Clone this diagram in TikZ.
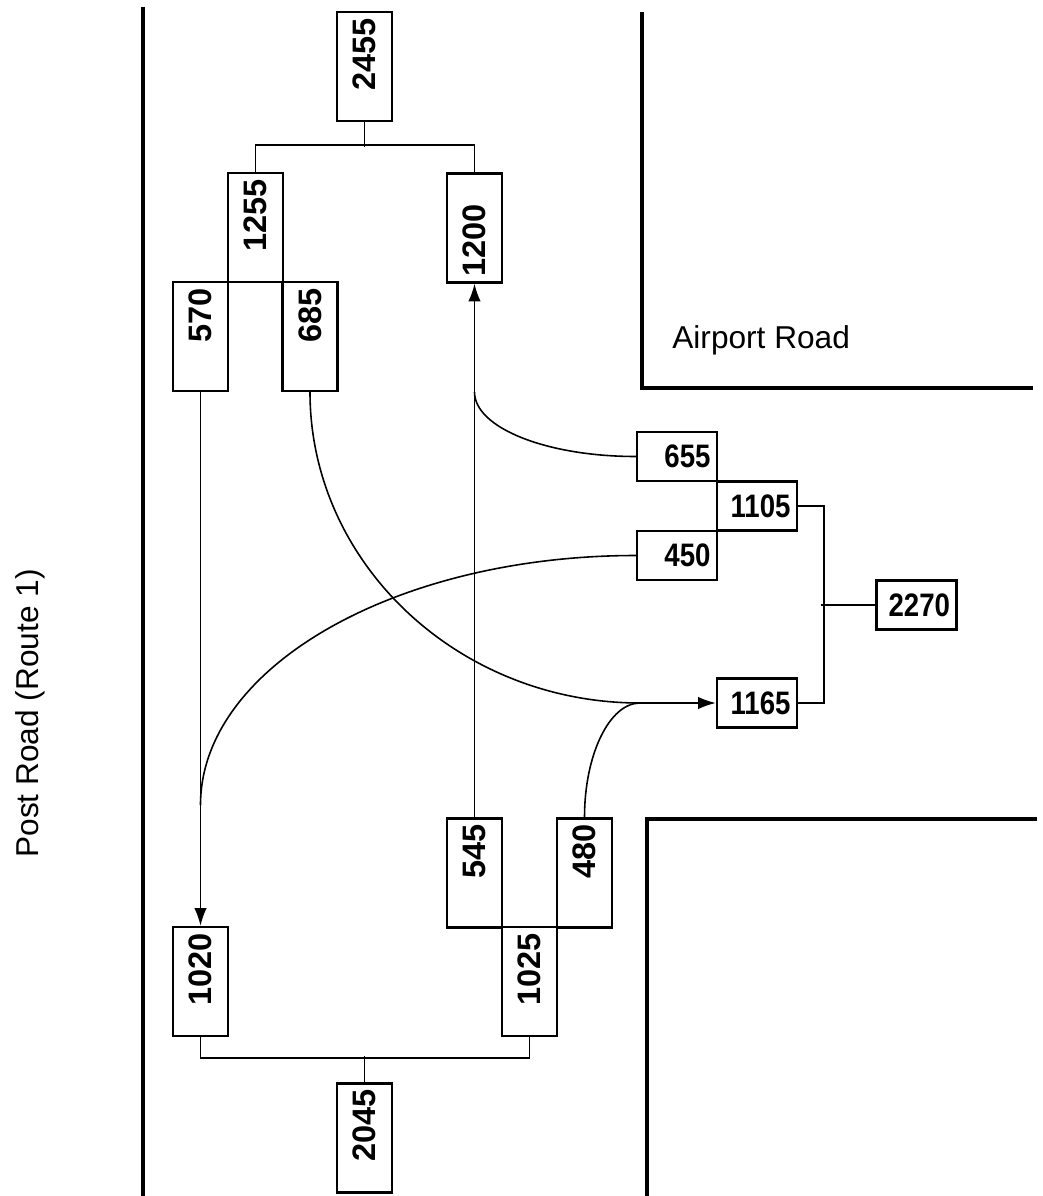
\documentclass[tikz,border=0pt]{standalone}
\usepackage{fontspec}
\setmainfont{Liberation Sans}
\usetikzlibrary{arrows.meta}

\newcommand{\squeeze}[1]{\scalebox{0.85}[1]{#1}}

\begin{document}
\begin{tikzpicture}[x=0.02cm, y=-0.02cm, >={Latex[length=10pt, width=7pt]},
        vcount/.style={draw, line width=1.4pt, rotate=90, minimum height=1.1cm, text width=1.94cm, inner xsep=0.12cm, inner ysep=0pt, align=right, font=\bfseries\fontsize{18.5}{20}\selectfont},
        hcount/.style={draw, line width=1.4pt, minimum height=0.98cm, text width=1.34cm, inner xsep=0.13cm, inner ysep=0pt, align=right, font=\bfseries\fontsize{18.5}{20}\selectfont},
        road/.style={line width=2pt},
        flow/.style={line width=0.9pt},
        roadname/.style={inner sep=0pt, font=\fontsize{18}{20}\selectfont}]
        \useasboundingbox (0,0) rectangle (1043,1196);

        % roads
        \draw[road] (143,7) -- (143,1196);
        \draw[road] (642,12) -- (642,388) -- (1033,388);
        \draw[road] (1037,819) -- (647,819) -- (647,1196);
        \node[roadname, anchor=base west] (airport) at (672,348) {Airport Road};
        \node[roadname, anchor=base west, rotate=90] (post) at (38,858) {Post Road (Route 1)};

        % counts
        \node[vcount] (n2455) at (364.5,66.5) {2455};
        \node[vcount] (n1255) at (255.5,227.5) {1255};
        \node[vcount, align=left] (n1200) at (474.5,228) {1200};
        \node[vcount] (n570) at (200.5,336.5) {570};
        \node[vcount] (n685) at (310,336.5) {685};
        \node[vcount] (n545) at (474.5,873) {545};
        \node[vcount] (n480) at (584.5,873) {480};
        \node[vcount] (n1020) at (200.5,981.5) {1020};
        \node[vcount] (n1025) at (529.5,981.5) {1025};
        \node[vcount] (n2045) at (364.5,1138) {2045};
        \node[hcount] (n655) at (677,456.5) {\squeeze{655}};
        \node[hcount] (n1105) at (757,506) {\squeeze{1105}};
        \node[hcount] (n450) at (677,555.5) {\squeeze{450}};
        \node[hcount] (n1165) at (757,703) {\squeeze{1165}};
        \node[hcount] (n2270) at (916.5,605) {\squeeze{2270}};

        % sums
        \draw[flow] (n2455.west) -- ++(0,25);
        \draw[flow] (n1255.east) -- ++(0,-27) -| (n1200.east);
        \draw[flow] (n2045.east) -- ++(0,-26);
        \draw[flow] (n1020.west) -- ++(0,21) -| (n1025.west);
        \draw[flow] (n2270.west) -- ++(-54,0);
        \draw[flow] (n1105.east) -- ++(26,0) |- (n1165.east);

        % movements
        \coordinate (j1200) at (474.5,392);
        \coordinate (j1020) at (200.5,805);
        \coordinate (j1165) at (640,703);
        \draw[flow, ->] (n570.west) -- (n1020.east);
        \draw[flow, ->] (n545.east) -- (n1200.west);
        \draw[flow] (n655.west) .. controls (547,456.5) and (474.5,428) .. (j1200);
        \draw[flow] (n450.west) .. controls (396,555.5) and (200.5,667) .. (j1020);
        \draw[flow, ->] (n685.west) .. controls (310,563) and (458,703) .. (j1165) -- (n1165.west);
        \draw[flow] (n480.east) .. controls (584.5,754.5) and (609.5,703) .. (j1165);
    \end{tikzpicture}
\end{document}
